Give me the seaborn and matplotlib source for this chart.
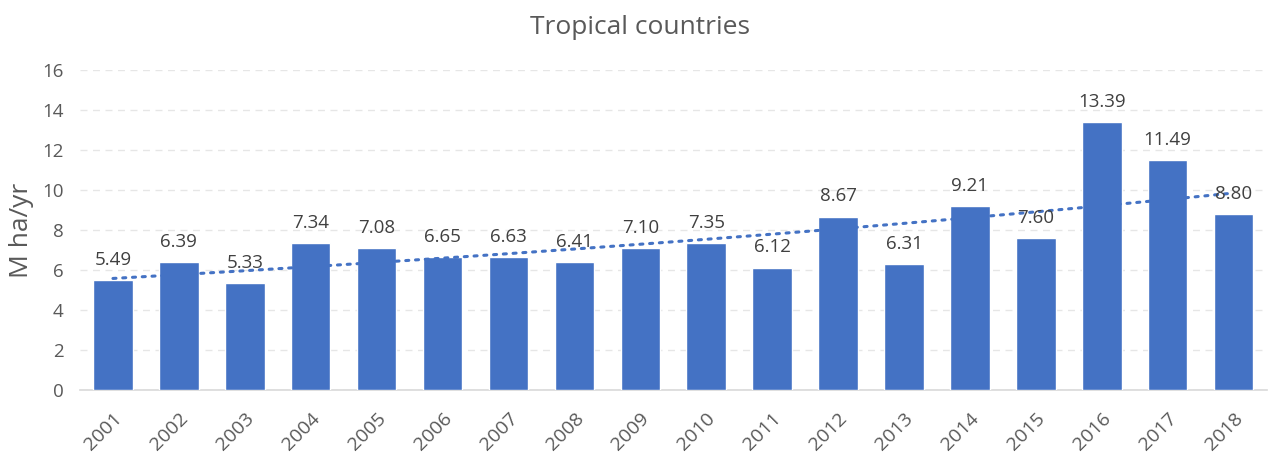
import numpy as np
import pandas as pd
import matplotlib
matplotlib.use("Agg")
import matplotlib.pyplot as plt
import seaborn as sns

years = [str(y) for y in range(2001, 2019)]
loss = [5.49, 6.39, 5.33, 7.34, 7.08, 6.65, 6.63, 6.41, 7.10,
        7.35, 6.12, 8.67, 6.31, 9.21, 7.60, 13.39, 11.49, 8.80]
y_ticks = [0, 2, 4, 6, 8, 10, 12, 14, 16]

BAR = "#4472C4"
TEXT = "#595959"

sns.set_theme(style="white")
plt.rcParams["font.family"] = ["Open Sans", "DejaVu Sans"]

df = pd.DataFrame({"year": years, "loss": loss})

fig = plt.figure(figsize=(12.8, 4.55), dpi=100)
ax = fig.add_axes([0.0625, 0.143, 0.927, 0.703])

sns.barplot(data=df, x="year", y="loss", color=BAR, saturation=1,
            width=0.6, ax=ax, zorder=3)

# exponential trend line fitted to the yearly values
idx = np.arange(len(loss))
b, a = np.polyfit(idx, np.log(loss), 1)
ax.plot(idx, np.exp(a + b * idx), linestyle=(0, (1, 2.2)),
        color=BAR, linewidth=2.2, zorder=4, dash_capstyle="round")

for i, v in enumerate(loss):
    ax.annotate(f"{v:.2f}", (i, v), xytext=(0, 8), textcoords="offset points",
                ha="center", va="bottom", fontsize=13.5, color="#404040", zorder=5)

ax.set_ylim(0, 16)
ax.set_xlim(-0.5, len(years) - 0.5)
ax.set_yticks(y_ticks)
ax.set_yticklabels([str(t) for t in y_ticks], fontsize=13.5, color=TEXT)
ax.tick_params(axis="x", labelsize=14, labelcolor=TEXT, length=0, pad=14)
ax.tick_params(axis="y", length=0, pad=12)
plt.setp(ax.get_xticklabels(), rotation=45, ha="right", rotation_mode="anchor")

ax.yaxis.grid(True, color="#E6E6E6", linestyle=(0, (5, 4)), linewidth=1, zorder=0)
ax.set_axisbelow(True)
for side in ["left", "right", "top"]:
    ax.spines[side].set_visible(False)
ax.spines["bottom"].set_color("#D9D9D9")
ax.spines["bottom"].set_linewidth(1.2)

ax.set_xlabel("")
ax.set_ylabel("M ha/yr", fontsize=19, color=TEXT, labelpad=6)
fig.suptitle("Tropical countries", fontsize=19, color=TEXT, y=0.968)

fig.savefig("out.png", dpi=100)
